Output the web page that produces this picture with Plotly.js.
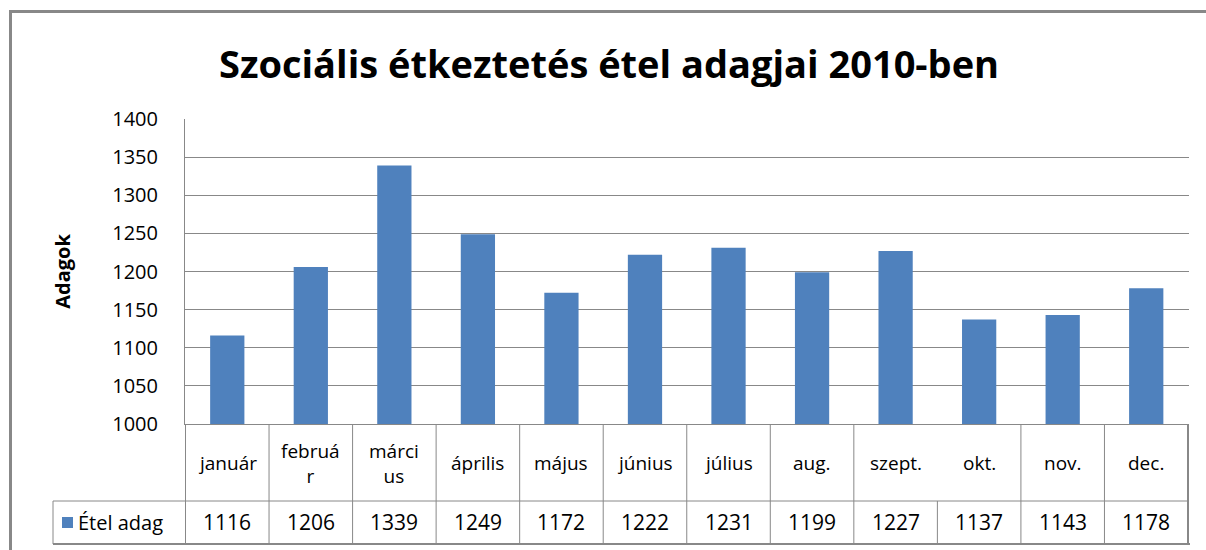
<!DOCTYPE html>
<html>
<head>
<meta charset="utf-8">
<script src="https://cdn.plot.ly/plotly-3.0.1.min.js"></script>
<style>
  html, body { margin: 0; padding: 0; background: #fff; overflow: hidden; }
  #wrap { position: relative; width: 1206px; height: 550px; overflow: hidden; }
  #chart { width: 1206px; height: 550px; }
  #frame { position: absolute; left: 9px; top: 10px; width: 1300px; height: 700px;
           border-left: 3px solid #888; border-top: 3px solid #888; pointer-events: none; }
</style>
</head>
<body>
<div id="wrap"><div id="chart"></div><div id="frame"></div></div>
<script>
// ---- data ----
const months = ['január', 'február', 'március', 'április', 'május', 'június',
                'július', 'aug.', 'szept.', 'okt.', 'nov.', 'dec.'];
const monthLabels = ['január', 'februá<br>r', 'márci<br>us', 'április', 'május', 'június',
                     'július', 'aug.', 'szept.', 'okt.', 'nov.', 'dec.'];
const portions = [1116, 1206, 1339, 1249, 1172, 1222, 1231, 1199, 1227, 1137, 1143, 1178];
const seriesName = 'Étel adag';
const chartTitle = 'Szociális étkeztetés étel adagjai 2010-ben';
const yTitle = 'Adagok';

// ---- layout helpers (pixel -> paper) ----
const L = 185, R = 1189, T = 119, B = 424;
const W = R - L, H = B - T;
const px = x => (x - L) / W;
const py = y => (B - y) / H;

const gray = '#888888';
const font = '"Open Sans", "Noto Sans", sans-serif';

const shapes = [];
// table horizontal lines
shapes.push({type: 'line', xref: 'paper', yref: 'paper', x0: px(53), x1: px(1189), y0: py(501), y1: py(501), line: {color: gray, width: 1}});
shapes.push({type: 'line', xref: 'paper', yref: 'paper', x0: px(53), x1: px(1190), y0: py(544), y1: py(544), line: {color: gray, width: 2}});
// legend cell left edge
shapes.push({type: 'line', xref: 'paper', yref: 'paper', x0: px(53), x1: px(53), y0: py(501), y1: py(544), line: {color: gray, width: 1}});
// column separators
for (let i = 0; i <= months.length; i++) {
  const top = (i === 9) ? 501 : 424;
  shapes.push({type: 'line', xref: 'x', yref: 'paper', x0: i - 0.5, x1: i - 0.5, y0: py(top), y1: py(544),
               line: {color: gray, width: (i === months.length) ? 2 : 1}});
}
// legend key square
shapes.push({type: 'rect', xref: 'paper', yref: 'paper', x0: px(62), x1: px(73), y0: py(528), y1: py(517),
             line: {width: 0}, fillcolor: '#4F81BD'});

const annotations = [];
months.forEach((m, i) => {
  annotations.push({xref: 'x', yref: 'paper', x: m, y: py(463), text: monthLabels[i], showarrow: false,
                    xanchor: 'center', yanchor: 'middle', font: {family: font, size: 19, color: '#000'}});
  annotations.push({xref: 'x', yref: 'paper', x: m, y: py(522), text: String(portions[i]), showarrow: false,
                    xanchor: 'center', yanchor: 'middle', font: {family: font, size: 21, color: '#000'}});
});
annotations.push({xref: 'paper', yref: 'paper', x: px(76), y: py(522), text: seriesName, showarrow: false,
                  xanchor: 'left', yanchor: 'middle', font: {family: font, size: 20, color: '#000'}});

const data = [{
  type: 'bar',
  x: months,
  y: portions,
  name: seriesName,
  marker: {color: '#4F81BD', line: {width: 0}},
  hoverinfo: 'x+y'
}];

const layout = {
  width: 1206, height: 550,
  margin: {l: L, r: 1206 - R, t: T, b: 550 - B, pad: 0},
  paper_bgcolor: '#fff', plot_bgcolor: '#fff',
  showlegend: false,
  bargap: 0.59,
  title: {text: '<b>' + chartTitle + '</b>', xref: 'container', yref: 'container', x: 0.505, y: 1 - 65 / 550,
          xanchor: 'center', yanchor: 'middle', font: {family: font, size: 38, color: '#000'}},
  xaxis: {type: 'category', showticklabels: false, ticks: '', showgrid: false, zeroline: false,
          showline: true, linecolor: gray, linewidth: 1, fixedrange: true},
  yaxis: {range: [1000, 1400], dtick: 50, tick0: 1000, showgrid: true, gridcolor: gray, gridwidth: 1,
          zeroline: false, showline: true, linecolor: gray, linewidth: 1,
          ticks: 'outside', ticklen: 22, tickcolor: 'rgba(0,0,0,0)',
          tickfont: {family: font, size: 20, color: '#000'},
          title: {text: '<b>' + yTitle + '</b>', standoff: 36, font: {family: font, size: 20, color: '#000'}},
          fixedrange: true},
  shapes: shapes,
  annotations: annotations
};

Plotly.newPlot('chart', data, layout, {displayModeBar: false, staticPlot: true});
</script>
</body>
</html>
